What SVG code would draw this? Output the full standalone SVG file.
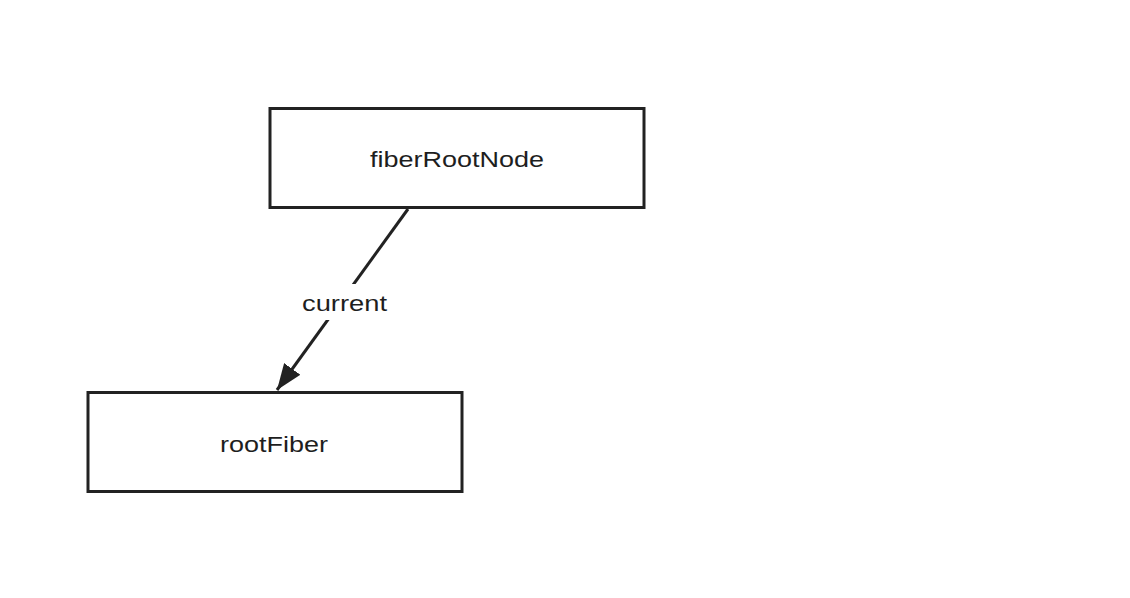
<svg xmlns="http://www.w3.org/2000/svg" width="1130" height="598" viewBox="0 0 1130 598">
  <style>
    .box { fill: #ffffff; stroke: #222222; stroke-width: 3; }
    .lbl { font-family: "Liberation Sans", Arial, sans-serif; font-size: 22.5px; fill: #1e1e1e; text-anchor: middle; }
    .edge { stroke: #222222; stroke-width: 3; fill: none; }
  </style>
  <defs>
    <marker id="arrow" viewBox="0 0 26 20" refX="26" refY="10" markerWidth="26" markerHeight="20" orient="auto" markerUnits="userSpaceOnUse">
      <path d="M0,0 L26,10 L0,20 Z" fill="#222222"/>
    </marker>
  </defs>
  <rect width="1130" height="598" fill="#ffffff"/>
  <g id="connectors">
    <line class="edge" x1="408" y1="209" x2="277" y2="390" marker-end="url(#arrow)"/>
    <rect x="298" y="284" width="92" height="36" fill="#ffffff"/>
    <text class="lbl" x="344.5" y="311" textLength="85" lengthAdjust="spacingAndGlyphs">current</text>
  </g>
  <g id="fiberRootNode">
    <rect class="box" x="270" y="108.5" width="374" height="99"/>
    <text class="lbl" x="457" y="167" textLength="174" lengthAdjust="spacingAndGlyphs">fiberRootNode</text>
  </g>
  <g id="rootFiber">
    <rect class="box" x="88" y="392.5" width="374" height="99"/>
    <text class="lbl" x="274" y="452" textLength="108" lengthAdjust="spacingAndGlyphs">rootFiber</text>
  </g>
</svg>
